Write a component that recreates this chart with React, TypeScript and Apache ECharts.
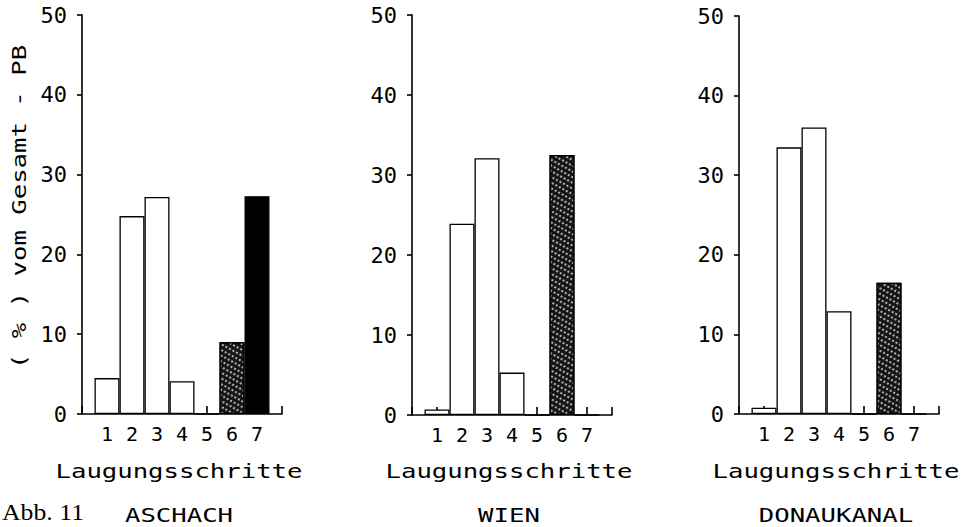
import React, { useEffect, useRef } from "react";
import * as echarts from "echarts";

// ---- data ----
const steps = ["1", "2", "3", "4", "5", "6", "7"];
const aschach = [4.5, 24.8, 27.2, 4.1, 0, 9.0, 27.3];
const wien = [0.7, 23.9, 32.1, 5.3, 0, 32.5, 0];
const donaukanal = [0.8, 33.5, 36.0, 12.9, 0, 16.5, 0];
const siteNames = ["ASCHACH", "WIEN", "DONAUKANAL"];
const yTickValues = [0, 10, 20, 30, 40, 50];
const xAxisTitle = "Laugungsschritte";
const yAxisTitle = "( % ) vom Gesamt - PB";
const figureLabel = "Abb. 11";

// fill kind per step: w = white, s = stippled, k = black
const fillAschach = ["w", "w", "w", "w", "w", "s", "k"];
const fillOther = ["w", "w", "w", "w", "w", "s", "w"];

const MONO = "'DejaVu Sans Mono', monospace";

export default function App() {
  const ref = useRef<HTMLDivElement>(null);

  useEffect(() => {
    if (!ref.current) return;
    const chart = echarts.init(ref.current, null, { renderer: "svg" });

    const grids = [
      { left: 82, top: 15, width: 200, height: 399 },
      { left: 412, top: 15, width: 200, height: 400 },
      { left: 739, top: 16, width: 200, height: 398 },
    ];
    const siteData = [aschach, wien, donaukanal];
    const siteFills = [fillAschach, fillOther, fillOther];
    const xCats = ["", ...steps, ""];

    const stipple = {
      color: "#141414",
      decal: {
        symbol: "circle",
        symbolSize: 1,
        color: "rgba(255,255,255,0.8)",
        dashArrayX: [[2, 2], [0, 2, 2, 0]],
        dashArrayY: [2, 3],
        rotation: 0.5,
      },
    };
    const styleFor = (k: string) => {
      const base = { borderColor: "#000", borderWidth: 1.3 };
      if (k === "s") return { ...base, ...stipple };
      if (k === "k") return { ...base, color: "#000" };
      return { ...base, color: "#fff" };
    };

    const axisLine = { show: true, lineStyle: { color: "#000", width: 1.6 } };

    const xAxes = grids.map((_, i) => ({
      type: "category",
      gridIndex: i,
      data: xCats,
      boundaryGap: false,
      axisLine,
      axisTick: { show: true, inside: true, length: 8, interval: 0, lineStyle: { color: "#000", width: 1.6 } },
      axisLabel: { interval: 0, margin: 10, fontSize: 20, fontFamily: MONO, color: "#000" },
      splitLine: { show: false },
    }));
    const yAxes = grids.map((_, i) => ({
      type: "value",
      gridIndex: i,
      min: yTickValues[0],
      max: yTickValues[yTickValues.length - 1],
      interval: yTickValues[1] - yTickValues[0],
      axisLine,
      axisTick: { show: true, inside: false, length: 5, lineStyle: { color: "#000", width: 1.6 } },
      axisLabel: { margin: 15, fontSize: 22, fontFamily: MONO, color: "#000" },
      splitLine: { show: false },
    }));
    const series = siteData.map((vals, i) => ({
      type: "bar",
      xAxisIndex: i,
      yAxisIndex: i,
      barWidth: "100%",
      barCategoryGap: "0%",
      data: [
        null,
        ...vals.map((v, j) => ({ value: v, itemStyle: styleFor(siteFills[i][j]) })),
        null,
      ],
    }));

    const plotText = (text: string, x: number, y: number, extra: any = {}) => ({
      type: "text",
      x,
      y,
      scaleX: 1.35,
      ...extra,
      style: {
        text,
        fontFamily: MONO,
        fontSize: 19,
        fill: "#000",
        textAlign: "center",
        textVerticalAlign: "middle",
        verticalAlign: "middle",
      },
    });

    const centers = [179, 509, 836];
    const graphic: any[] = [];
    centers.forEach((cx, i) => {
      graphic.push(plotText(xAxisTitle, cx, 471));
      graphic.push(plotText(siteNames[i], cx, 515));
    });
    graphic.push(plotText(yAxisTitle, 19, 207, { rotation: Math.PI / 2 }));
    graphic.push({
      type: "text",
      x: 2,
      y: 512,
      scaleX: 1.12,
      style: {
        text: figureLabel,
        fontFamily: "'Liberation Serif', serif",
        fontSize: 23,
        fill: "#000",
        textAlign: "left",
        textVerticalAlign: "middle",
        verticalAlign: "middle",
      },
    });

    chart.setOption({
      animation: false,
      backgroundColor: "#fff",
      grid: grids,
      xAxis: xAxes,
      yAxis: yAxes,
      series,
      graphic,
    });

    return () => chart.dispose();
  }, []);

  return (
    <div
      ref={ref}
      style={{ position: "absolute", left: 0, top: 0, width: 967, height: 527 }}
    />
  );
}
